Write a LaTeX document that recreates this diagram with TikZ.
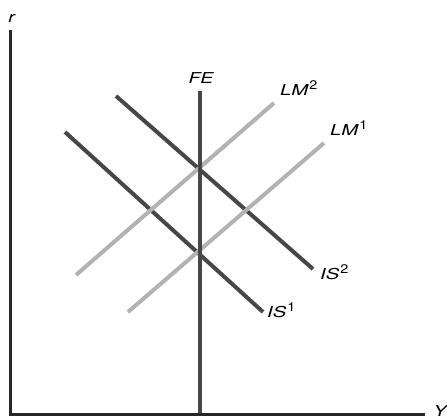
\documentclass[tikz,border=0pt]{standalone}
\usepackage{fontspec}
\setmainfont{TeX Gyre Heros}
% wide italic label with an upright raised index
\newcommand{\curvelabel}[2]{\scalebox{1.35}[1]{\itshape #1}\kern1pt\raisebox{6pt}{\fontsize{12.5}{12.5}\selectfont\upshape\scalebox{1.15}[1]{#2}}}
\begin{document}
\begin{tikzpicture}[x=1pt,y=-1pt,
  axisline/.style={line width=3pt,color=black!85},
  iscurve/.style={line width=4pt,color=black!72},
  lmcurve/.style={line width=4pt,color=black!30},
  felinestyle/.style={line width=4pt,color=black!72},
  lbl/.style={font=\fontsize{15}{15}\selectfont\itshape,inner sep=0pt}]
\useasboundingbox (0,0) rectangle (447,419);
% axes
\coordinate (origin) at (10,414.5);
\coordinate (rtop) at (10,30);
\coordinate (yend) at (425,414.5);
% IS curves
\coordinate (is1a) at (65,132);
\coordinate (is1b) at (263,312);
\coordinate (is2a) at (116,96);
\coordinate (is2b) at (313,269);
% LM curves
\coordinate (lm1a) at (128,312);
\coordinate (lm1b) at (324,143);
\coordinate (lm2a) at (76,275);
\coordinate (lm2b) at (274,103);
% full-employment line
\coordinate (fetop) at (200,91);
\coordinate (febot) at (200,414);

\draw[iscurve] (is1a) -- (is1b);
\draw[iscurve] (is2a) -- (is2b);
\draw[lmcurve] (lm1a) -- (lm1b);
\draw[lmcurve] (lm2a) -- (lm2b);
\draw[felinestyle] (fetop) -- (febot);
\draw[axisline] (rtop) -- (origin) -- (yend);

% labels
\node[lbl] (rlab) at (11.5,18) {\scalebox{1.3}[1]{r}};
\node[lbl] (ylab) at (440,411.5) {\scalebox{1.3}[1]{Y}};
\node[lbl,anchor=base] (felab) at (201,84) {\scalebox{1.3}[1]{FE}};
\node[lbl,anchor=base west] (lm2lab) at (280,96) {\curvelabel{LM}{2}};
\node[lbl,anchor=base west] (lm1lab) at (330,136) {\curvelabel{LM}{1}};
\node[lbl,anchor=base west] (is2lab) at (320,280) {\curvelabel{IS}{2}};
\node[lbl,anchor=base west] (is1lab) at (267,318) {\curvelabel{IS}{1}};
\end{tikzpicture}
\end{document}
